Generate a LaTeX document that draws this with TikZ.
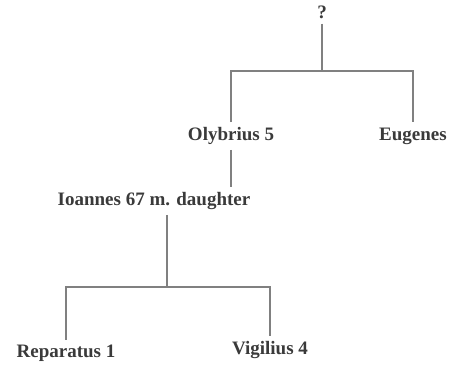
\documentclass[tikz,border=0pt]{standalone}
\usepackage{fontspec}
\setmainfont{Liberation Serif}
\usepackage{tikz}
\usetikzlibrary{positioning, calc}
\definecolor{inkgray}{HTML}{3A3A3A}
\definecolor{linegray}{HTML}{808080}

\begin{document}
\begin{tikzpicture}[
    x=1pt, y=-1pt,
    % personas del arbol
    person/.style={font=\fontsize{19}{22}\selectfont\bfseries, text=inkgray,
        inner sep=5pt, anchor=center},
    % lineas de parentesco
    kin/.style={draw=linegray, line width=1.1pt}
]
    \useasboundingbox (0,0) rectangle (450,372);

    % --- Generacion 1 ---
    \node[person] (unknown) at (322,12) {?};

    % --- Generacion 2 ---
    \node[person] (olybrius) at (231,136) {Olybrius 5};
    \node[person] (eugenes)  at (413,136) {Eugenes};

    % --- Generacion 3 ---
    \node[person] (ioannes) at (154,201) {Ioannes 67 m. daughter};

    % --- Generacion 4 ---
    \node[person] (reparatus) at (66,353) {Reparatus 1};
    \node[person] (vigilius)  at (270,350) {Vigilius 4};

    % puntos de union
    \coordinate (jtop) at (322,71);
    \coordinate (jlow) at (167,287);

    % conexiones
    \draw[kin] (unknown) -- (jtop);
    \draw[kin] (olybrius.north) |- (jtop) -| (eugenes.north);
    \draw[kin] (olybrius.south) -- (olybrius.south |- ioannes.north);
    \draw[kin] (jlow |- ioannes.south) -- (jlow);
    \draw[kin] (reparatus.north) |- (jlow) -| (vigilius.north);

\end{tikzpicture}
\end{document}
